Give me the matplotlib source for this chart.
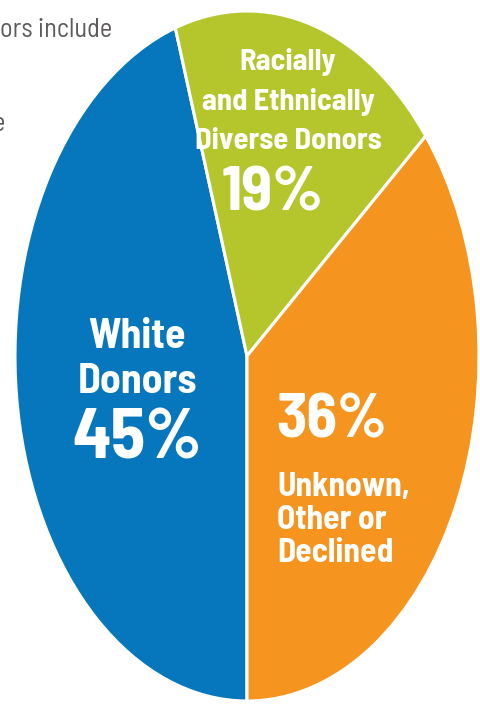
import matplotlib
matplotlib.use("Agg")
import matplotlib.pyplot as plt

# Donor breakdown shares (percent)
labels = ["White Donors", "Racially and Ethnically Diverse Donors", "Unknown, Other or Declined"]
shares = [45, 19, 36]
colors = ["#0677BD", "#B5C62C", "#F5951F"]

W, H = 480, 708
CX, CY = 247, 356          # pie centre in pixels (from top-left)
RX, RY = 232, 345          # pie radii in pixels (stretched)

fig = plt.figure(figsize=(W / 100, H / 100), dpi=100)
ax = fig.add_axes([0, 0, 1, 1])
ax.pie(shares, colors=colors, startangle=270, counterclock=False, radius=1,
       wedgeprops=dict(edgecolor="white", linewidth=2.2))
ax.set_aspect("auto")
ax.set_xlim(-CX / RX, (W - CX) / RX)
ax.set_ylim(-(H - CY) / RY, CY / RY)
ax.axis("off")


def px(x, y):
    """pixel position -> data coords"""
    return (x - CX) / RX, (CY - y) / RY


narrow = ["Barlow Semi Condensed", "Open Sans", "DejaVu Sans"]
bold = dict(color="white", fontweight="bold", family=narrow, va="center")

# top slice label
for txt, y in [("Racially", 62), ("and Ethnically", 102), ("Diverse Donors", 142)]:
    ax.text(*px(288, y), txt, ha="center", fontsize=22, **bold)
ax.text(*px(273, 194), f"{shares[1]}%", ha="center", fontsize=46, **bold)

# left slice label
ax.text(*px(137, 337), "White", ha="center", fontsize=30, **bold)
ax.text(*px(137, 382), "Donors", ha="center", fontsize=30, **bold)
ax.text(*px(137, 441), f"{shares[0]}%", ha="center", fontsize=51, **bold)

# right slice label
ax.text(*px(276, 421), f"{shares[2]}%", ha="left", fontsize=45, **bold)
for txt, y in [("Unknown,", 487), ("Other or", 520), ("Declined", 553)]:
    ax.text(*px(277, y), txt, ha="left", fontsize=24, **bold)

# leftover caption text at the top-left
grey = dict(ha="left", va="center", fontsize=19, color="#5E5B5B", family=narrow)
ax.text(*px(0, 30), "ors include", **grey)
ax.text(*px(-8, 124), "e", **grey)

fig.savefig("out.png", dpi=100)
